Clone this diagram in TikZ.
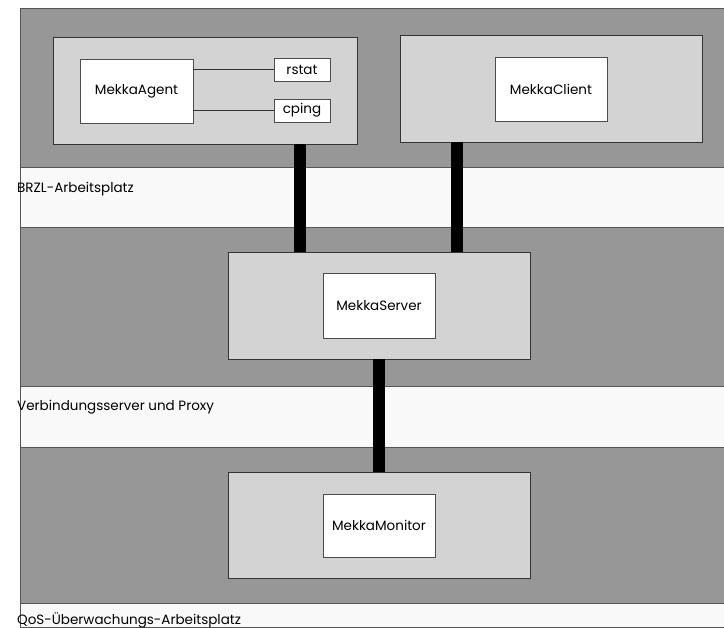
\documentclass[tikz,border=0pt]{standalone}
\usepackage{fontspec}
\setmainfont{Poppins}
\definecolor{bandgray}{HTML}{979797}
\definecolor{contgray}{HTML}{D3D3D3}
\definecolor{bandwhite}{HTML}{F9F9F9}
\definecolor{edgegray}{HTML}{555555}
\tikzset{
  darkband/.style={fill=bandgray},
  whiteband/.style={fill=bandwhite},
  bandedge/.style={draw=edgegray, line width=0.8pt},
  container/.style={draw=black!80, line width=0.8pt, fill=contgray, inner sep=0pt},
  compbox/.style={draw=black!70, line width=0.7pt, fill=white, inner sep=0pt, font=\fontsize{13.5}{15}\selectfont},
  smallbox/.style={draw=black!70, line width=0.7pt, fill=white, inner sep=0pt, font=\fontsize{13.5}{15}\selectfont},
  thinlink/.style={draw=black!80, line width=0.8pt},
  thicklink/.style={draw=black, line width=12pt},
  layerlabel/.style={anchor=west, inner sep=0pt, font=\fontsize{13.5}{15}\selectfont}
}
\begin{document}
\begin{tikzpicture}[x=1pt,y=-1pt]
\useasboundingbox[fill=white] (0,0) rectangle (724,628);
% bands
\fill[darkband] (20,8) rectangle (724,167);
\fill[whiteband] (20,167) rectangle (724,227);
\fill[darkband] (20,227) rectangle (724,386);
\fill[whiteband] (20,386) rectangle (724,447);
\fill[darkband] (20,447) rectangle (724,603);
\fill[whiteband] (20,603) rectangle (724,627);
\draw[bandedge] (20,8) -- (724,8);
\draw[bandedge] (20,167) -- (724,167);
\draw[bandedge] (20,227) -- (724,227);
\draw[bandedge] (20,386) -- (724,386);
\draw[bandedge] (20,447) -- (724,447);
\draw[bandedge] (20,603) -- (724,603);
\draw[bandedge] (20,627) -- (724,627);
\draw[bandedge] (20,8) -- (20,627);
% layer labels
\node[layerlabel] (l1) at (17,189) {BRZL-Arbeitsplatz};
\node[layerlabel] (l2) at (17,407) {Verbindungsserver und Proxy};
\node[layerlabel] (l3) at (17,620) {QoS-Überwachungs-Arbeitsplatz};
% containers
\node[container, minimum width=304pt, minimum height=107pt] (agentc) at (205,90.5) {};
\node[container, minimum width=302pt, minimum height=107pt] (clientc) at (551,88.5) {};
\node[container, minimum width=302pt, minimum height=107pt] (serverc) at (379,305.5) {};
\node[container, minimum width=302pt, minimum height=106pt] (monitorc) at (379,525) {};
% components
\node[compbox, minimum width=113pt, minimum height=64pt] (agent) at (136.5,91) {MekkaAgent};
\node[smallbox, minimum width=56pt, minimum height=23pt] (rstat) at (302,69.5) {rstat};
\node[smallbox, minimum width=56pt, minimum height=23pt] (cping) at (302,110.5) {cping};
\node[compbox, minimum width=112pt, minimum height=64pt] (client) at (551,89) {MekkaClient};
\node[compbox, minimum width=112pt, minimum height=65pt] (server) at (379,305.5) {MekkaServer};
\node[compbox, minimum width=112pt, minimum height=63pt] (monitor) at (379,525.5) {MekkaMonitor};
% thin links
\draw[thinlink] (agent.east |- rstat.west) -- (rstat.west);
\draw[thinlink] (agent.east |- cping.west) -- (cping.west);
% thick links
\coordinate (xa) at (300,0);
\coordinate (xc) at (457,0);
\draw[thicklink] (agentc.south -| xa) -- (serverc.north -| xa);
\draw[thicklink] (clientc.south -| xc) -- (serverc.north -| xc);
\draw[thicklink] (serverc.south) -- (monitorc.north);
\end{tikzpicture}
\end{document}
